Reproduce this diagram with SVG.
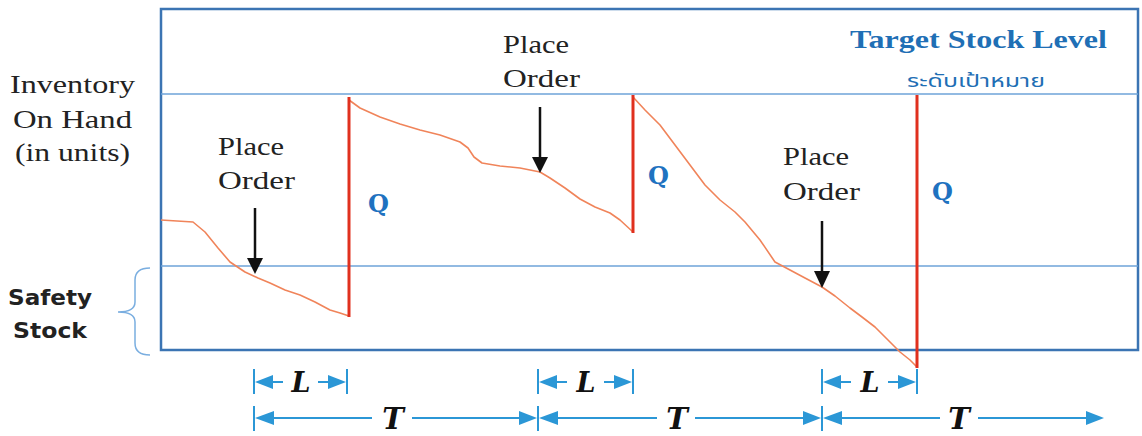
<svg xmlns="http://www.w3.org/2000/svg" width="1142" height="436" viewBox="0 0 1142 436">
<style>
.lbl{font-family:"Liberation Serif","DejaVu Serif",serif;font-size:25px;fill:#222}
.po{font-family:"Liberation Serif","DejaVu Serif",serif;font-size:26px;fill:#222}
.q{font-family:"DejaVu Serif","Liberation Serif",serif;font-size:24px;font-weight:bold;fill:#1f72c0}
.dim{font-family:"DejaVu Serif","Liberation Serif",serif;font-weight:bold;font-style:italic;fill:#111}
.frame{fill:none;stroke:#3b74b3;stroke-width:2.5}
.lvl{stroke:#6ea3d8;stroke-width:1.6}
.red{stroke:#e0301e;stroke-width:3}
.inv{fill:none;stroke:#f0845a;stroke-width:1.6;stroke-linejoin:round}
.dl{stroke:#2b97d6;stroke-width:2;fill:none}
.dh{fill:#2b97d6}
.blk{stroke:#111;stroke-width:2.5}
</style>
<g id="chart">
<rect class="frame" x="161" y="9" width="977" height="341"/>
<line class="lvl" x1="161" y1="94" x2="1138" y2="94"/>
<line class="lvl" x1="161" y1="266" x2="1138" y2="266"/>
</g>
<g id="labels">
<text class="lbl" x="10" y="93" textLength="125" lengthAdjust="spacingAndGlyphs">Inventory</text>
<text class="lbl" x="13" y="128" textLength="119" lengthAdjust="spacingAndGlyphs">On Hand</text>
<text class="lbl" x="15" y="161" textLength="115" lengthAdjust="spacingAndGlyphs">(in units)</text>
<text x="850" y="48" textLength="257" lengthAdjust="spacingAndGlyphs" style="font-family:'Liberation Serif','DejaVu Serif',serif;font-size:25px;font-weight:bold;fill:#1f6fb5">Target Stock Level</text>
<text x="907" y="87" textLength="138" lengthAdjust="spacingAndGlyphs" style="font-family:'Noto Sans Thai','Noto Sans','DejaVu Sans',sans-serif;font-size:18px;fill:#1f6fb5">ระดับเป้าหมาย</text>
<text x="8" y="305" textLength="84" lengthAdjust="spacingAndGlyphs" style="font-family:'DejaVu Sans','Liberation Sans',sans-serif;font-size:21px;font-weight:bold;fill:#222">Safety</text>
<text x="13" y="338" textLength="74" lengthAdjust="spacingAndGlyphs" style="font-family:'DejaVu Sans','Liberation Sans',sans-serif;font-size:21px;font-weight:bold;fill:#222">Stock</text>
<path d="M150,268 Q135,268 135,280 L135,302 Q135,312 118,312 Q135,312 135,322 L135,343 Q135,355 150,355" fill="none" stroke="#7aaee0" stroke-width="1.5"/>
</g>
<g id="inventory-curve">
<polyline class="inv" points="161,220 193,222 205,232 218,248 230,262 245,272 258,278 270,283 285,290 300,295 315,302 330,310 340,313 349,316"/>
<polyline class="inv" points="349,100 360,108 380,117 400,124 420,130 440,135 460,142 468,148 474,157 482,163 500,166 520,168 540,172 550,178 565,188 580,199 595,207 610,213 620,220 633,232"/>
<polyline class="inv" points="633,97 645,110 660,125 675,145 690,165 705,185 720,200 735,212 745,222 760,240 775,262 790,270 805,278 822,287 835,296 850,308 862,317 875,327 888,340 900,352 910,360 917,367"/>
</g>
<g id="replenish">
<line class="red" x1="349" y1="97" x2="349" y2="317"/>
<line class="red" x1="633" y1="95" x2="633" y2="233"/>
<line class="red" x1="917" y1="95" x2="917" y2="368"/>
<text class="q" x="368" y="212">Q</text>
<text class="q" x="648" y="184">Q</text>
<text class="q" x="932" y="200">Q</text>
</g>
<g id="order1">
<text class="po" x="218" y="155" textLength="66" lengthAdjust="spacingAndGlyphs">Place</text>
<text class="po" x="218" y="189" textLength="77" lengthAdjust="spacingAndGlyphs">Order</text>
<line class="blk" x1="255" y1="208" x2="255" y2="260"/>
<polygon points="247,258 263,258 255,274" fill="#111"/>
</g>
<g id="order2">
<text class="po" x="503" y="53" textLength="66" lengthAdjust="spacingAndGlyphs">Place</text>
<text class="po" x="503" y="87" textLength="77" lengthAdjust="spacingAndGlyphs">Order</text>
<line class="blk" x1="540" y1="107" x2="540" y2="158"/>
<polygon points="532,157 548,157 540,173" fill="#111"/>
</g>
<g id="order3">
<text class="po" x="783" y="165" textLength="66" lengthAdjust="spacingAndGlyphs">Place</text>
<text class="po" x="783" y="200" textLength="77" lengthAdjust="spacingAndGlyphs">Order</text>
<line class="blk" x1="822" y1="221" x2="822" y2="272"/>
<polygon points="814,271 830,271 822,288" fill="#111"/>
</g>
<g id="connectors">
<g id="L1">
<line class="dl" x1="254" y1="369" x2="254" y2="394"/><line class="dl" x1="347" y1="369" x2="347" y2="394"/>
<polygon class="dh" points="255,382 273,375 273,389"/><line class="dl" x1="272" y1="382" x2="283" y2="382"/>
<line class="dl" x1="318" y1="382" x2="330" y2="382"/><polygon class="dh" points="346,382 328,375 328,389"/>
<text class="dim" x="301" y="392" font-size="27" text-anchor="middle">L</text>
</g>
<g id="L2">
<line class="dl" x1="538" y1="369" x2="538" y2="394"/><line class="dl" x1="633" y1="369" x2="633" y2="394"/>
<polygon class="dh" points="539,382 557,375 557,389"/><line class="dl" x1="556" y1="382" x2="567" y2="382"/>
<line class="dl" x1="604" y1="382" x2="616" y2="382"/><polygon class="dh" points="632,382 614,375 614,389"/>
<text class="dim" x="586" y="392" font-size="27" text-anchor="middle">L</text>
</g>
<g id="L3">
<line class="dl" x1="822" y1="369" x2="822" y2="394"/><line class="dl" x1="917" y1="369" x2="917" y2="394"/>
<polygon class="dh" points="823,382 841,375 841,389"/><line class="dl" x1="840" y1="382" x2="851" y2="382"/>
<line class="dl" x1="888" y1="382" x2="900" y2="382"/><polygon class="dh" points="916,382 898,375 898,389"/>
<text class="dim" x="870" y="392" font-size="27" text-anchor="middle">L</text>
</g>
<g id="T1">
<line class="dl" x1="254" y1="406" x2="254" y2="431"/>
<polygon class="dh" points="255,418 274,411 274,425"/><line class="dl" x1="273" y1="418" x2="372" y2="418"/>
<text class="dim" x="393" y="429" font-size="29" text-anchor="middle">T</text>
<line class="dl" x1="412" y1="418" x2="521" y2="418"/><polygon class="dh" points="537,418 519,411 519,425"/>
</g>
<g id="T2">
<line class="dl" x1="538" y1="406" x2="538" y2="431"/>
<polygon class="dh" points="539,418 558,411 558,425"/><line class="dl" x1="557" y1="418" x2="657" y2="418"/>
<text class="dim" x="677" y="429" font-size="29" text-anchor="middle">T</text>
<line class="dl" x1="695" y1="418" x2="805" y2="418"/><polygon class="dh" points="821,418 803,411 803,425"/>
</g>
<g id="T3">
<line class="dl" x1="822" y1="406" x2="822" y2="431"/>
<polygon class="dh" points="823,418 842,411 842,425"/><line class="dl" x1="841" y1="418" x2="940" y2="418"/>
<text class="dim" x="959" y="429" font-size="29" text-anchor="middle">T</text>
<line class="dl" x1="978" y1="418" x2="1088" y2="418"/><polygon class="dh" points="1104,418 1086,411 1086,425"/>
</g>
</g>
</svg>
